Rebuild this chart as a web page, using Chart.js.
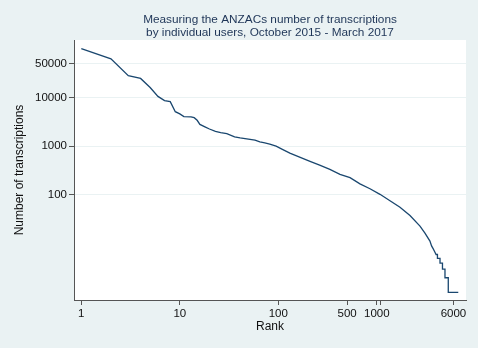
<!DOCTYPE html>
<html>
<head>
<meta charset="utf-8">
<script src="https://cdn.jsdelivr.net/npm/chart.js@4.4.1/dist/chart.umd.min.js"></script>
<style>
  html, body { margin: 0; padding: 0; background: #eaf2f3; }
  #wrap { width: 478px; height: 348px; }
</style>
</head>
<body>
<div id="wrap"><canvas id="rankChart" width="478" height="348"></canvas></div>
<script>
// values
const ranks = [1, 2, 3, 4, 5, 6, 7, 8, 9, 10, 11, 13, 14, 15, 16, 18, 20, 23, 26, 30,
  36, 41, 46, 58, 65, 73, 82, 95, 110, 131, 160, 210, 263, 334, 423, 535, 675, 853,
  1078, 1361, 1720, 2173, 2745, 3084, 3465, 3600, 3720, 3850, 4000, 4129, 4130, 4384,
  4385, 4644, 4645, 4924, 4925, 5319, 5320, 6720];
const counts = [100000, 62000, 28000, 24500, 16000, 10500, 8600, 8200, 5100, 4600, 4050, 3980, 3850, 3400, 2800, 2490, 2250, 2020, 1900, 1815,
  1560, 1480, 1435, 1325, 1230, 1175, 1100, 1000, 860, 720, 610, 490, 410, 334, 264, 226, 169, 134,
  103, 76, 56, 37.7, 23, 16.5, 11.3, 9, 8, 7, 6, 6, 5, 5,
  4, 4, 3, 3, 2, 2, 1, 1];

const xTicks = [1, 10, 100, 500, 1000, 1080, 6000];
const xLabels = ['1', '10', '100', '500', '1000', '', '6000'];
const yTicks = [100, 1000, 10000, 50000];

const titleLines = ['Measuring the ANZACs number of transcriptions', 'by individual users, October 2015 - March 2017'];
const xTitle = 'Rank';
const yTitle = 'Number of transcriptions';

const BG = '#eaf2f3';
const LINE = '#1a476f';
const FONT = '"Liberation Sans", Arial, sans-serif';

// backgrounds + titles
const decor = {
  id: 'decor',
  beforeDraw(chart) {
    const { ctx, chartArea: a } = chart;
    ctx.save();
    ctx.fillStyle = BG;
    ctx.fillRect(0, 0, chart.width, chart.height);
    ctx.fillStyle = '#ffffff';
    ctx.fillRect(a.left, a.top, a.right - a.left, a.bottom - a.top);
    ctx.restore();
  },
  afterDraw(chart) {
    const { ctx, chartArea: a } = chart;
    const cx = (a.left + a.right) / 2;
    ctx.save();
    ctx.textAlign = 'center';
    ctx.textBaseline = 'middle';
    ctx.fillStyle = '#1e3557';
    ctx.font = '11.8px ' + FONT;
    ctx.fillText(titleLines[0], cx, 20);
    ctx.fillText(titleLines[1], cx, 32.5);
    ctx.fillStyle = '#111';
    ctx.font = '12px ' + FONT;
    ctx.fillText(xTitle, cx, 327);
    ctx.translate(20, (a.top + a.bottom) / 2);
    ctx.rotate(-Math.PI / 2);
    ctx.fillText(yTitle, 0, 0);
    ctx.restore();
  }
};

const points = ranks.map((r, i) => ({ x: r, y: counts[i] }));

new Chart(document.getElementById('rankChart'), {
  type: 'scatter',
  data: {
    datasets: [{
      data: points,
      showLine: true,
      borderColor: LINE,
      borderWidth: 1.3,
      pointRadius: 0,
      tension: 0
    }]
  },
  options: {
    responsive: false,
    animation: false,
    layout: { padding: { top: 40, right: 12, left: 0, bottom: 0 } },
    plugins: { legend: { display: false }, tooltip: { enabled: false } },
    scales: {
      x: {
        type: 'logarithmic',
        min: 0.843,
        max: 8050,
        afterFit: s => { s.height = 48; },
        afterBuildTicks: s => { s.ticks = xTicks.map(v => ({ value: v })); },
        border: { color: '#555', width: 1 },
        grid: { drawOnChartArea: false, tickColor: '#555', tickLength: 5 },
        ticks: {
          color: '#111', font: { family: FONT, size: 11.5 }, padding: 2,
          maxRotation: 0, autoSkip: false,
          callback: (v, i) => xLabels[i]
        }
      },
      y: {
        type: 'logarithmic',
        min: 0.71,
        max: 150700,
        afterFit: s => { s.width = 74; },
        afterBuildTicks: s => { s.ticks = yTicks.map(v => ({ value: v })); },
        border: { color: '#555', width: 1 },
        grid: { color: BG, lineWidth: 1, tickColor: '#555', tickLength: 5 },
        ticks: {
          color: '#111', font: { family: FONT, size: 11.5 }, padding: 2,
          autoSkip: false,
          callback: v => String(v)
        }
      }
    }
  },
  plugins: [decor]
});
</script>
</body>
</html>
